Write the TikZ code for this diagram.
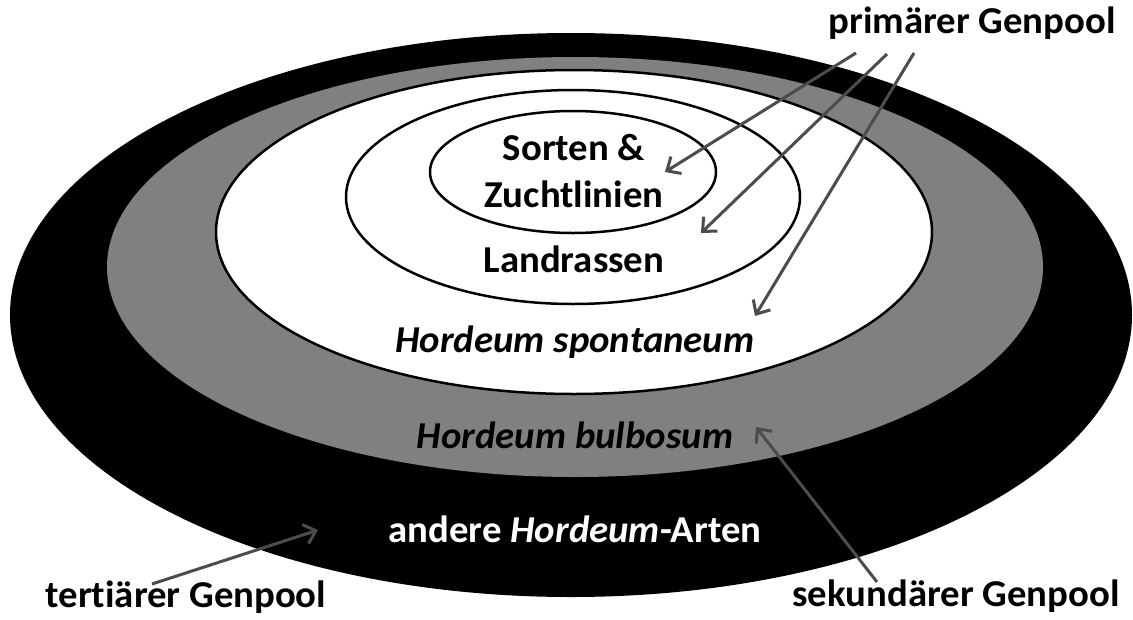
\documentclass[tikz,border=0pt]{standalone}
\usepackage{fontspec}
\setmainfont{Carlito}[FakeStretch=1.02, Ligatures=NoCommon]
\usetikzlibrary{arrows.meta, positioning}

\begin{document}
\begin{tikzpicture}[x=1pt, y=-1pt]
\tikzstyle{ring} = [line width=2.5pt, draw=black]
\tikzstyle{label} = [font=\bfseries\fontsize{38}{46}\selectfont, inner sep=0pt, anchor=base]
\tikzstyle{species} = [label, font=\bfseries\itshape\fontsize{38}{46}\selectfont]
\tikzstyle{arrow} = [line width=3pt, draw=black!70, -{Straight Barb[length=11pt, width=20pt]}]

\useasboundingbox (0,0) rectangle (1133,619);

% Genpool rings
\fill[black] (571,315) ellipse [x radius=561, y radius=282];
\fill[black!50] (575,267) ellipse [x radius=468, y radius=210];
\filldraw[fill=white, ring] (574,232) ellipse [x radius=358, y radius=162];
\draw[ring] (573,197) ellipse [x radius=227, y radius=107];
\draw[ring] (573,172) ellipse [x radius=143, y radius=61];

% Ring texts
\node (sorten) [label] at (574,160) {Sorten \&};
\node (zucht) [label] at (574,207) {Zuchtlinien};
\node (land) [label] at (574,272) {Landrassen};
\node (spont) [species] at (575,352) {Hordeum spontaneum};
\node (bulb) [species] at (575,448) {Hordeum bulbosum};
\node (andere) [label, text=white] at (575,542) {andere \textit{Hordeum}-Arten};

% Genpool labels
\node (prim) [label] at (972,33) {primärer Genpool};
\node (tert) [label] at (186,607) {tertiärer Genpool};
\node (sek) [label] at (956,606) {sekundärer Genpool};

% Arrow tips
\coordinate (tipA) at (665,172);
\coordinate (tipB) at (701,233);
\coordinate (tipC) at (755,316);
\coordinate (tipD) at (756,427);
\coordinate (tipE) at (318,530);

% Connections
\draw [arrow] ([shift={(-116,20)}]prim.base) -- (tipA);
\draw [arrow] ([shift={(-85,21)}]prim.base) -- (tipB);
\draw [arrow] ([shift={(-58,20)}]prim.base) -- (tipC);
\draw [arrow] ([shift={(-79,-24)}]sek.base) -- (tipD);
\draw [arrow] ([shift={(-34,-23)}]tert.base) -- (tipE);

\end{tikzpicture}
\end{document}
